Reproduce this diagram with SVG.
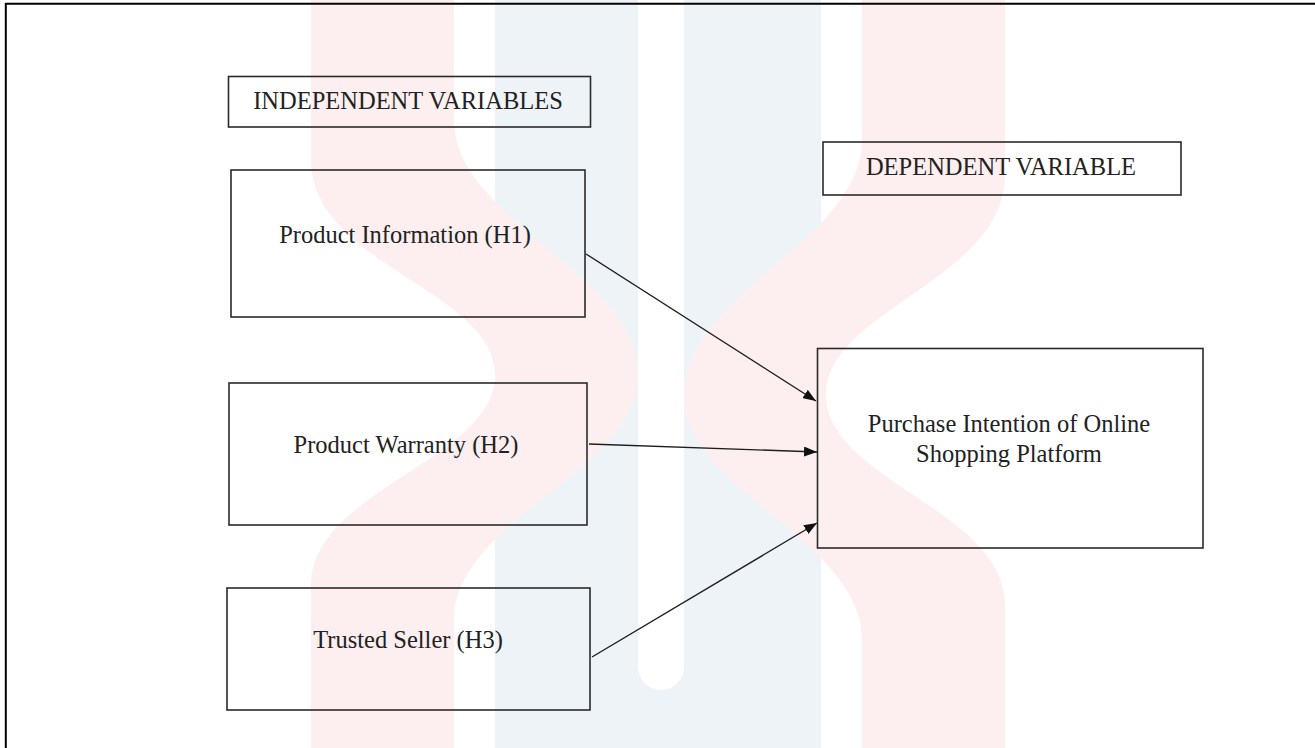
<svg xmlns="http://www.w3.org/2000/svg" width="1315" height="748" viewBox="0 0 1315 748">
  <style>
    .box { fill: none; stroke: #2a2a2a; stroke-width: 1.6; }
    .lbl { font-family: "Liberation Serif", "Times New Roman", serif; font-size: 24.5px; fill: #222222; text-anchor: middle; }
    .conn { stroke: #1e1e1e; stroke-width: 1.4; fill: none; marker-end: url(#arrow); }
    .pink { fill: #fdefef; }
    .blue { fill: #eef3f8; }
  </style>
  <defs>
    <marker id="arrow" markerUnits="userSpaceOnUse" markerWidth="14" markerHeight="10" refX="13" refY="5" orient="auto">
      <path d="M0,0 L13,5 L0,10 Z" fill="#111111"/>
    </marker>
  </defs>
  <rect x="0" y="0" width="1315" height="748" fill="#ffffff"/>
  <g id="watermark">
    <rect class="blue" x="495" y="0" width="326" height="748"/>
    <path fill="#ffffff" d="M638,0 L684,0 L684,667 A23,23 0 0 1 638,667 Z"/>
    <path class="pink" d="M311,0 L311,160 C311,265 495,290 495,375 C495,460 311,490 311,585 L311,748 L454,748 L454,620 C454,520 638,470 638,375 C638,275 454,220 454,120 L454,0 Z"/>
    <path class="pink" d="M1005,0 L1005,175 C1005,280 826,310 826,395 C826,480 1005,510 1005,605 L1005,748 L862,748 L862,640 C862,540 684,490 684,395 C684,295 862,240 862,140 L862,0 Z"/>
  </g>
  <g id="frame">
    <line x1="5" y1="3.8" x2="1315" y2="3.8" stroke="#000000" stroke-width="2"/>
    <line x1="5.8" y1="3" x2="5.8" y2="748" stroke="#000000" stroke-width="2"/>
  </g>
  <g id="connectors">
    <line class="conn" x1="586" y1="254" x2="816" y2="401"/>
    <line class="conn" x1="589" y1="444" x2="817" y2="452"/>
    <line class="conn" x1="592" y1="657" x2="817" y2="523"/>
  </g>
  <g id="independent-header">
    <rect class="box" x="228.5" y="76.5" width="362" height="50.5"/>
    <text class="lbl" x="408" y="109">INDEPENDENT VARIABLES</text>
  </g>
  <g id="product-information">
    <rect class="box" x="231" y="170" width="354" height="147"/>
    <text class="lbl" x="405" y="243">Product Information (H1)</text>
  </g>
  <g id="product-warranty">
    <rect class="box" x="229" y="383" width="358" height="142"/>
    <text class="lbl" x="406" y="453">Product Warranty (H2)</text>
  </g>
  <g id="trusted-seller">
    <rect class="box" x="227" y="588" width="363" height="122"/>
    <text class="lbl" x="408" y="648">Trusted Seller (H3)</text>
  </g>
  <g id="dependent-header">
    <rect class="box" x="823" y="142" width="358" height="53"/>
    <text class="lbl" x="1001" y="175">DEPENDENT VARIABLE</text>
  </g>
  <g id="purchase-intention">
    <rect class="box" x="817.5" y="348.5" width="385.5" height="199.5"/>
    <text class="lbl" x="1009" y="432">Purchase Intention of Online</text>
    <text class="lbl" x="1009" y="462">Shopping Platform</text>
  </g>
</svg>
